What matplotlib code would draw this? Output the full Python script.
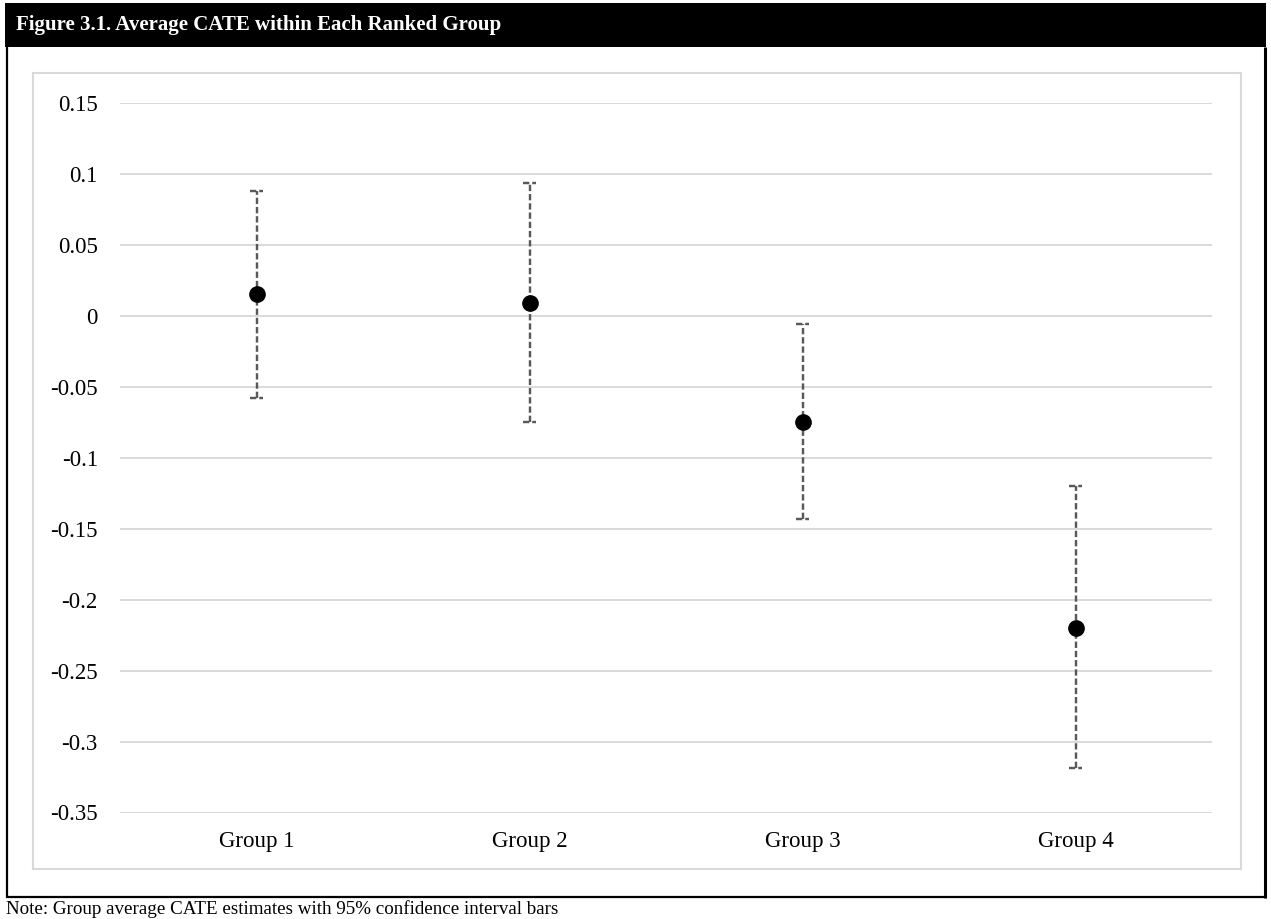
import matplotlib
matplotlib.use("Agg")
import matplotlib.pyplot as plt
from matplotlib.patches import Rectangle
from matplotlib.lines import Line2D

# Group-level average CATE estimates with 95% confidence bounds
groups = ["Group 1", "Group 2", "Group 3", "Group 4"]
cate = [0.015, 0.009, -0.075, -0.220]
ci_lower = [-0.058, -0.075, -0.143, -0.319]
ci_upper = [0.088, 0.093, -0.006, -0.120]
y_ticks = [0.15, 0.1, 0.05, 0, -0.05, -0.1, -0.15, -0.2, -0.25, -0.3, -0.35]
y_tick_labels = ["0.15", "0.1", "0.05", "0", "-0.05", "-0.1", "-0.15",
                 "-0.2", "-0.25", "-0.3", "-0.35"]

title_text = "Figure 3.1. Average CATE within Each Ranked Group"
note_text = "Note: Group average CATE estimates with 95% confidence interval bars"

W, H = 1271, 919
plt.rcParams["font.family"] = ["Liberation Serif", "DejaVu Serif"]

fig = plt.figure(figsize=(W / 100, H / 100), dpi=100)
fig.patch.set_facecolor("white")


def fx(px):
    return px / W


def fy(py):
    return 1 - py / H


# Black title banner
fig.patches.append(Rectangle((fx(5), fy(47)), fx(1266) - fx(5), fy(3) - fy(47),
                             transform=fig.transFigure, facecolor="black",
                             edgecolor="none", zorder=0))
fig.text(fx(16), fy(25), title_text, color="white", fontsize=15,
         fontweight="bold", ha="left", va="center")

# Outer black frame below the banner
frame_kw = dict(transform=fig.transFigure, color="black", solid_capstyle="butt")
fig.lines.append(Line2D([fx(7), fx(7)], [fy(47), fy(898)], lw=1.6, **frame_kw))
fig.lines.append(Line2D([fx(1265), fx(1265)], [fy(47), fy(898)], lw=2.2, **frame_kw))
fig.lines.append(Line2D([fx(6), fx(1267)], [fy(897), fy(897)], lw=1.6, **frame_kw))

# Light grey chart-area border
fig.patches.append(Rectangle((fx(33), fy(869)), fx(1241) - fx(33), fy(73) - fy(869),
                             transform=fig.transFigure, facecolor="none",
                             edgecolor="#d9d9d9", lw=1.5, zorder=1))

# Plot area
ax = fig.add_axes([fx(120), fy(812.5), fx(1212) - fx(120), fy(102.5) - fy(812.5)])
ax.set_facecolor("none")
x = list(range(len(groups)))

ax.set_ylim(-0.35, 0.15)
ax.set_xlim(-0.5, len(groups) - 0.5)
ax.set_yticks(y_ticks)
ax.set_yticklabels(y_tick_labels)
ax.set_xticks(x)
ax.set_xticklabels(groups)
ax.tick_params(axis="both", length=0, labelsize=16.5, colors="black")
ax.tick_params(axis="y", pad=16)
ax.tick_params(axis="x", pad=13)
for s in ax.spines.values():
    s.set_visible(False)
ax.yaxis.grid(True, color="#d9d9d9", lw=1.4)
ax.set_axisbelow(True)

err_color = "#595959"
dash = (0, (2.6, 1.2))
lw_err = 1.75
yerr = [[c - lo for c, lo in zip(cate, ci_lower)],
        [hi - c for c, hi in zip(cate, ci_upper)]]
_, _, barcols = ax.errorbar(x, cate, yerr=yerr, fmt="none", ecolor=err_color,
                            elinewidth=lw_err, capsize=0, zorder=3)
for bc in barcols:
    bc.set_linestyle(dash)

cap_half = 0.022
ax.hlines(ci_upper, [v - cap_half for v in x], [v + cap_half for v in x],
          colors=err_color, lw=lw_err, linestyles=dash, zorder=3)
ax.hlines(ci_lower, [v - cap_half for v in x], [v + cap_half for v in x],
          colors=err_color, lw=lw_err, linestyles=dash, zorder=3)

ax.plot(x, cate, "o", color="black", markersize=11, zorder=4)

# Footnote
fig.text(fx(6), fy(909), note_text, fontsize=13.7, ha="left", va="center",
         color="black")

fig.savefig("out.png", dpi=100, facecolor="white")
